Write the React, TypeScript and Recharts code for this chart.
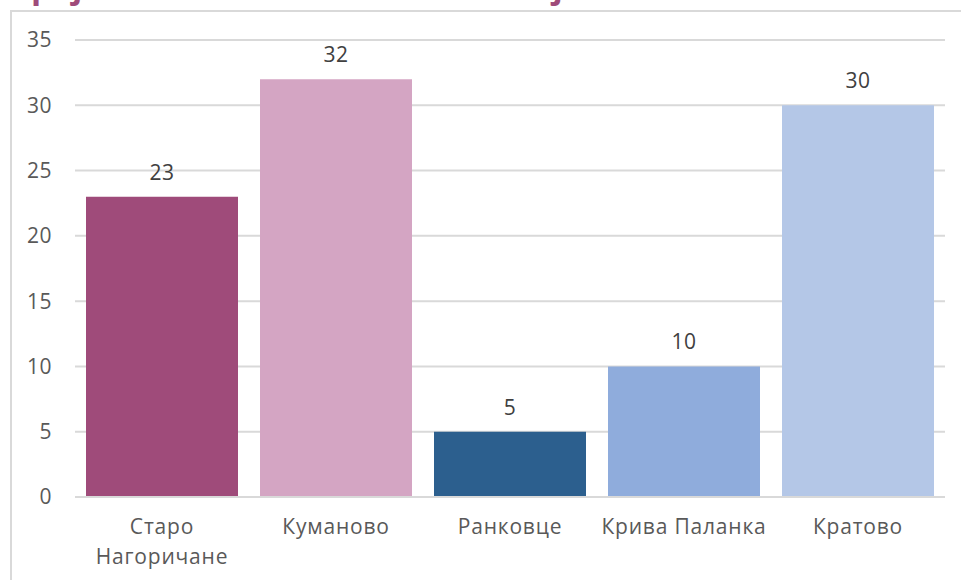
import React from "react"
import { BarChart, Bar, XAxis, YAxis, CartesianGrid, Cell, LabelList } from "recharts"

const municipalities = ["Старо Нагоричане", "Куманово", "Ранковце", "Крива Паланка", "Кратово"]
const counts = [23, 32, 5, 10, 30]
const barColors = ["#9F4B7A", "#D4A5C3", "#2C5F8E", "#8FACDC", "#B4C7E7"]
const yTicks = [0, 5, 10, 15, 20, 25, 30, 35]

const FONT = "'Open Sans', 'Noto Sans', sans-serif"

const data = municipalities.map((name, i) => ({ name, value: counts[i] }))

// long names go onto two lines, like the reference
function CategoryTick(props: any) {
  const { x, y, payload } = props
  const label: string = payload.value
  const lines = label.length > 14 ? label.split(" ") : [label]
  return (
    <text
      x={x}
      y={y}
      textAnchor="middle"
      fill="#595959"
      style={{ fontFamily: FONT, fontSize: 21, letterSpacing: 0.8 }}
    >
      {lines.map((line, i) => (
        <tspan key={i} x={x} dy={i === 0 ? 16 : 30}>
          {line}
        </tspan>
      ))}
    </text>
  )
}

export default function App() {
  return (
    <div
      style={{
        position: "absolute",
        left: 0,
        top: 0,
        width: 961,
        height: 580,
        overflow: "hidden",
        background: "#fff",
        fontFamily: FONT,
      }}
    >
      {/* title cut off at the top edge, only the descenders show */}
      <div
        style={{
          position: "absolute",
          left: 10,
          top: -33,
          color: "#9F4B7A",
          fontWeight: 700,
          fontSize: 33,
          lineHeight: "37px",
          whiteSpace: "nowrap",
        }}
      >
        Број на населени места во секоја општина
      </div>
      <div
        style={{
          position: "absolute",
          left: 10,
          top: 10,
          right: -2,
          bottom: -2,
          borderLeft: "2px solid #D9D9D9",
          borderTop: "2px solid #D9D9D9",
        }}
      />
      <div style={{ position: "absolute", left: 0, top: 0 }}>
        <BarChart
          width={961}
          height={580}
          data={data}
          margin={{ top: 40, right: 16, left: 0, bottom: 0 }}
          barCategoryGap={11}
        >
          <CartesianGrid vertical={false} stroke="#D9D9D9" strokeWidth={2} />
          <XAxis
            dataKey="name"
            axisLine={{ stroke: "#D9D9D9", strokeWidth: 2 }}
            tickLine={false}
            height={83}
            interval={0}
            tickMargin={0}
            tickSize={21}
            tick={<CategoryTick />}
          />
          <YAxis
            width={75}
            domain={[0, 35]}
            ticks={yTicks}
            axisLine={false}
            tickLine={false}
            tickSize={0}
            tickMargin={23}
            tick={{ fill: "#595959", fontSize: 21, fontFamily: FONT, letterSpacing: 0.5 }}
          />
          <Bar dataKey="value" isAnimationActive={false}>
            {data.map((entry, index) => (
              <Cell key={`cell-${index}`} fill={barColors[index]} />
            ))}
            <LabelList
              dataKey="value"
              position="top"
              offset={17}
              fill="#404040"
              style={{ fontSize: 21, fontFamily: FONT, letterSpacing: 0.5 }}
            />
          </Bar>
        </BarChart>
      </div>
    </div>
  )
}
